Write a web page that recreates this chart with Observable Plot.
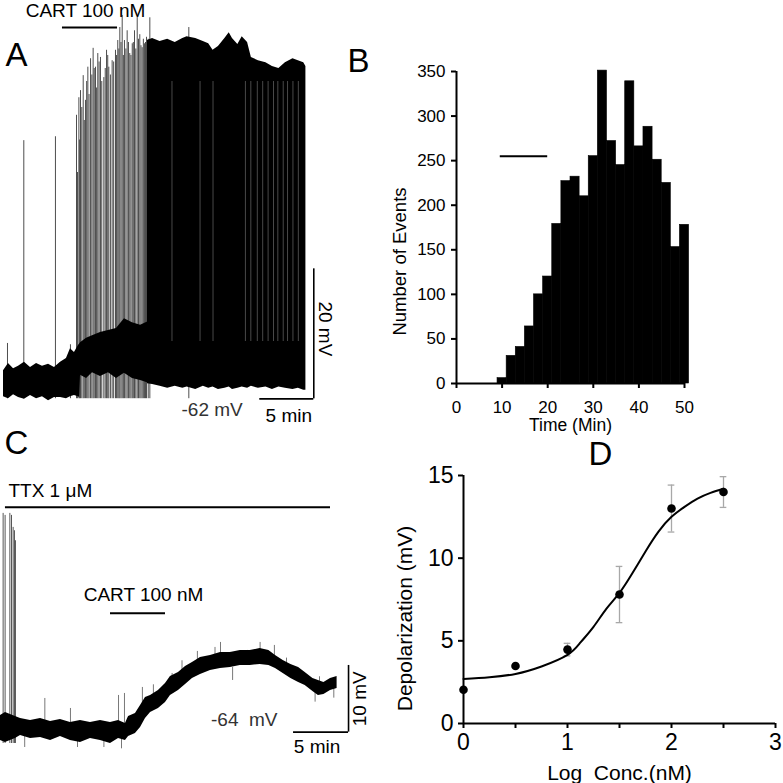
<!DOCTYPE html>
<html><head><meta charset="utf-8">
<script src="https://cdn.jsdelivr.net/npm/d3@7"></script>
<script src="https://cdn.jsdelivr.net/npm/@observablehq/plot@0.6"></script>
<style>
html,body{margin:0;padding:0;background:#fff;}
#fig{position:relative;width:783px;height:783px;overflow:hidden;background:#fff;}
#fig svg{position:absolute;}
#fig [aria-label^="x-axis"] line, #fig [aria-label^="y-axis"] line,
#fig [aria-label^="x-axis"] path, #fig [aria-label^="y-axis"] path{stroke-width:2px;}
</style></head>
<body><div id="fig"></div>
<script>
const FONT = '"Liberation Sans", Arial, Helvetica, sans-serif';

// ---------- Panel A: trace (time in min, membrane potential in mV) ----------
const aBand = [ // [t, upper, lower] noisy baseline band
 [0,-60.5,-64.5],[0.46,-59.4,-64.8],[0.93,-60.2,-64.2],[1.39,-59.8,-64.6],[1.94,-59.2,-64.9],
 [2.5,-60.0,-64.3],[3.06,-59.4,-64.8],[3.61,-59.8,-64.5],[4.17,-59.5,-65.1],[4.72,-60.0,-64.6],
 [5.28,-59.2,-64.6],[5.83,-58.6,-64.8],[6.2,-57.1,-64.5],[6.57,-57.7,-64.3],[6.94,-56.6,-64.5],
 [7.05,-56.4,-64.6],[7.13,-56.2,-61.2],[7.69,-55.5,-61.7],[8.24,-55.1,-60.8],[8.98,-54.6,-61.4],
 [9.72,-54.3,-60.8],[10.46,-54.0,-61.7],[11.2,-52.5,-60.9],[11.94,-53.1,-61.7],[12.69,-53.5,-62.0],
 [13.6,-52.8,-62.5]
];
const aDense = [ // [t, top envelope, bottom envelope] of the dense firing
 [13.33,-9.7,-62.5],[13.8,-9.4,-62.6],[14.5,-9.85,-62.9],[15.2,-9.5,-63.2],[15.9,-10.0,-62.9],
 [16.6,-9.4,-63.2],[17.0,-9.1,-63.0],[17.8,-9.4,-63.4],[18.5,-9.85,-62.9],[19.0,-10.2,-63.2],
 [19.4,-11.2,-63.0],[19.9,-10.6,-63.4],[20.5,-9.4,-63.2],[20.9,-8.5,-63.0],[21.2,-9.4,-63.4],
 [21.7,-10.3,-63.2],[22.1,-9.1,-63.0],[22.6,-10.0,-63.2],[22.95,-12.3,-62.9],[23.6,-12.8,-63.2],
 [24.3,-13.1,-63.0],[24.9,-13.7,-63.4],[25.5,-14.0,-63.0],[26.1,-13.1,-63.2],[26.8,-12.5,-63.4],
 [27.3,-12.8,-63.2],[27.8,-13.1,-63.5],[28.0,-13.7,-63.5]
];
const aSpikes = [ // [t, peak]
 [0.37,-56.3],[1.88,-25.1],[4.81,-24.5],[6.2,-56.5],[6.76,-21.2],[6.85,-30],[6.98,-18.5],[7.05,-25],
 [7.13,-17.4],[7.25,-20],[7.38,-15.1],[7.48,-22],[7.59,-18.9],[7.7,-16],[7.81,-13.8],[7.92,-18],
 [8.06,-12.5],[8.18,-15],[8.3,-10.9],[8.4,-14],[8.52,-13.8],[8.62,-17],[8.73,-11.7],[8.85,-13],
 [8.98,-12.3],[9.1,-16],[9.29,-15.4],[9.42,-14],[9.54,-11.2],[9.65,-12],[9.75,-13.8],[9.9,-15],
 [10.06,-12.8],[10.2,-13],[10.37,-11.2],[10.47,-12],[10.58,-9.7],[10.68,-11],[10.77,-7.7],[10.88,-10],
 [10.99,-5.85],[11.1,-12],[11.2,-9.7],[11.33,-11],[11.45,-8.2],[11.57,-10],[11.69,-11.7],[11.8,-12],
 [11.92,-10.2],[12.02,-10],[12.13,-8.2],[12.25,-11],[12.38,-6.15],[12.5,-9.5],[12.62,-8.8],[12.73,-10.5],
 [12.84,-10.8],[12.95,-9.5],[13.06,-10.2],[13.15,-10],[13.24,-9.2],[13.4,-9.5],[13.55,-6.2],[17.16,-7.7]
];
const aSpikeFloor = -64.8;
const aGaps = [15.6, 18.2, 19.4, 22.4, 22.9, 23.5, 24.0, 24.5, 25.0, 25.4, 25.9, 26.3, 26.8, 27.3];
const aCart = [5.46, 10.56, -7.7];        // start, end, level
const aScaleT = 28.73, aScaleV = -64.82, aScaleMin = 5, aScaleMV = 20;

// ---------- Panel B: histogram ----------
const bBinStart = [9,11,13,15,17,19,21,23,25,27,29,31,33,35,37,39,41,43,45,47,49];
const bCounts   = [6,31,41,64,100,120,179,227,232,210,255,351,272,245,339,266,288,251,225,153,178];
const bBinWidth = 2;
const bTicksX = [0,10,20,30,40,50];
const bTicksY = [0,50,100,150,200,250,300,350];
const bCart = [9.6, 20, 255];

// ---------- Panel C: trace in TTX ----------
const cBand = [
 [0,-62.2,-65.95],[0.45,-61.75,-66.25],[1.36,-62.35,-65.65],[1.82,-62.65,-65.2],[2.73,-62.95,-65.65],
 [3.64,-62.65,-65.5],[4.55,-63.1,-65.95],[5.45,-62.8,-65.35],[6.36,-63.25,-65.95],[7.27,-62.95,-66.25],
 [8.18,-63.25,-65.65],[9.09,-62.95,-65.95],[10.0,-63.25,-66.4],[10.73,-62.95,-65.65],[11.36,-63.4,-65.95],
 [11.64,-62.35,-65.35],[12.27,-61.9,-64.9],[12.73,-60.7,-64.0],[13.18,-59.5,-62.65],[13.64,-59.2,-61.75],
 [14.36,-58.45,-61.15],[15.0,-57.4,-60.25],[15.45,-56.35,-59.2],[16.18,-55.75,-58.45],[16.82,-54.85,-57.55],
 [17.45,-54.25,-56.65],[18.18,-53.5,-56.05],[19.09,-53.2,-55.45],[20.0,-52.76,-55.15],[20.9,-52.76,-55.0],
 [21.8,-52.46,-54.7],[22.7,-52.46,-54.7],[23.6,-52.16,-54.55],[24.4,-52.46,-54.7],[25.0,-53.2,-55.15],
 [25.7,-53.95,-55.9],[26.4,-54.55,-56.65],[27.1,-55.0,-57.25],[27.7,-55.75,-57.7],[28.4,-56.65,-58.6],
 [28.9,-56.95,-59.2],[29.4,-57.25,-59.05],[30.0,-56.65,-58.45],[30.6,-56.35,-58.15]
];
const cSpikes = [[0.24,-31.9],[0.42,-32.2],[0.85,-31.9],[1.0,-32.2],[1.15,-34.0],[1.27,-34.5],[1.36,-36.0]];
const cSpikeFloor = -66.4;
const cNoise = [ // [t, from, to]
 [4.03,-64.3,-59.65],[6.36,-64.5,-61.15],[10.73,-64.5,-59.2],[11.27,-64.3,-58.9],[12.9,-61,-58.0],
 [15.6,-58,-55.9],[20.0,-54.5,-51.25],[20.9,-54.5,-52.75],[21.1,-55,-56.95],[22.45,-54,-52.45],[23.6,-54,-51.25],
 [13.9,-60.8,-57.6],[16.5,-56.5,-54.0],[17.9,-55,-52.6],[19.5,-54.3,-52.0],[24.9,-54,-51.7],[26.0,-55.5,-53.6],
 [29.0,-58.5,-56.4],[28.6,-58,-60.2],[30.3,-57.5,-59.6],[2.2,-64,-67.0],[7.0,-64,-67.0],[9.4,-64,-67.0],[11.0,-64.5,-67.2]
];
const cTTX = [0.45, 30.0, -30.97];
const cCart = [10, 15, -46.86];
const cScaleT = 31.64, cScaleV = -64.7, cScaleMin = 5, cScaleMV = 10;

// ---------- Panel D: dose-response ----------
const dLogConc = [0, 0.5, 1, 1.5, 2, 2.5];
const dMean    = [2.04, 3.48, 4.47, 7.8, 13.0, 14.0];
const dErr     = [0, 0, 0.38, 1.7, 1.42, 0.93];
const dFitX = [0,0.25,0.5,0.75,1.0,1.125,1.25,1.375,1.5,1.625,1.75,1.875,2.0,2.125,2.25,2.375,2.5];
const dFitY = [2.69,2.8,3.0,3.45,4.15,4.9,5.85,6.95,7.9,9.1,10.4,11.6,12.5,13.1,13.6,13.95,14.2];
const dTicksX = [0,0.5,1,1.5,2,2.5,3];
const dTicksY = [0,5,10,15];

const fig = document.getElementById("fig");
function place(svg, left, top){ svg.style.left = left+"px"; svg.style.top = top+"px"; fig.appendChild(svg); }
const baseStyle = (fs) => ({fontFamily: FONT, fontSize: fs, color: "black", background: "transparent", overflow: "visible"});

// Panel A
const band = aBand.map(([t,hi,lo]) => ({t,hi,lo}));
const dense = aDense.map(([t,hi,lo]) => ({t,hi,lo}));
const spikes = aSpikes.map(([t,p]) => ({t,p}));
const A = Plot.plot({
  width: 360, height: 430, marginLeft: 3, marginRight: 0, marginTop: 0, marginBottom: 0,
  x: {domain: [0, 357/10.8], axis: null},
  y: {domain: [-69.69, -3.54], axis: null},
  style: baseStyle("19px"),
  marks: [
    Plot.ruleX(spikes, {x: "t", y1: aSpikeFloor, y2: "p", stroke: "#3a3a3a", strokeWidth: 0.9}),
    Plot.areaY(band, {x: "t", y1: "lo", y2: "hi", fill: "black", curve: "linear"}),
    Plot.areaY(dense, {x: "t", y1: "lo", y2: "hi", fill: "black", curve: "linear"}),
    Plot.ruleX(aGaps, {x: d => d, y1: -56, y2: -16, stroke: "#7a7a7a", strokeWidth: 0.6}),
    Plot.ruleY([aCart], {x1: d => d[0], x2: d => d[1], y: d => d[2], strokeWidth: 2}),
    Plot.text([aCart], {x: d => (d[0]+d[1])/2, y: d => d[2], text: () => "CART 100 nM", textAnchor: "middle", dx: -4.5, dy: -17}),
    Plot.ruleX([aScaleT], {x: d => d, y1: aScaleV, y2: aScaleV + aScaleMV, strokeWidth: 1.6}),
    Plot.ruleY([aScaleV], {y: d => d, x1: aScaleT - aScaleMin, x2: aScaleT, strokeWidth: 1.6}),
    Plot.text([0], {x: aScaleT, y: aScaleV + aScaleMV/2, text: () => aScaleMV + " mV", rotate: 90, textAnchor: "middle", dx: 11, dy: -5}),
    Plot.text([0], {x: aScaleT - aScaleMin/2, y: aScaleV, text: () => aScaleMin + " min", textAnchor: "middle", dx: 2, dy: 17}),
    Plot.text([0], {x: aScaleT - aScaleMin, y: aScaleV, text: () => "-62 mV", textAnchor: "end", dx: -17, dy: 11, fill: "#333"}),
    Plot.text(["A"], {frameAnchor: "top-left", textAnchor: "start", lineAnchor: "top", dx: 2, dy: 42, fontSize: 33})
  ]
});
place(A, 0, 0);

// Panel B
const B = Plot.plot({
  width: 360, height: 405, marginLeft: 116, marginRight: 16, marginTop: 31, marginBottom: 62,
  x: {domain: [0, 50], ticks: bTicksX, tickSize: 5, tickPadding: 12, label: null},
  y: {domain: [0, 350], ticks: bTicksY, tickSize: 5, tickPadding: 6, label: null},
  style: baseStyle("17px"),
  marks: [
    Plot.rectY(bCounts, {x1: (d,i) => bBinStart[i], x2: (d,i) => bBinStart[i] + bBinWidth, y: d => d, fill: "black", stroke: "black", strokeWidth: 0.6}),
    Plot.ruleY([0], {strokeWidth: 2}),
    Plot.ruleX([0], {strokeWidth: 2}),
    Plot.ruleY([bCart], {x1: d => d[0], x2: d => d[1], y: d => d[2], strokeWidth: 2}),
    Plot.text(["Time (Min)"], {frameAnchor: "bottom", textAnchor: "middle", lineAnchor: "middle", dy: 42, fontSize: 17.5}),
    Plot.text(["Number of Events"], {frameAnchor: "left", textAnchor: "middle", lineAnchor: "middle", rotate: -90, dx: -56, dy: 34, fontSize: 18.5}),
    Plot.text(["B"], {frameAnchor: "top-left", textAnchor: "start", lineAnchor: "top", dx: -109, dy: -23, fontSize: 33})
  ]
});
place(B, 340, 40);

// Panel C
const cb = cBand.map(([t,hi,lo]) => ({t,hi,lo}));
const C = Plot.plot({
  width: 372, height: 363, marginLeft: 0, marginRight: 0, marginTop: 0, marginBottom: 0,
  x: {domain: [0, 372/11], axis: null},
  y: {domain: [-72.4, -17.97], axis: null},
  style: baseStyle("19px"),
  marks: [
    Plot.ruleX(cSpikes, {x: d => d[0], y1: cSpikeFloor, y2: d => d[1], stroke: "#444", strokeWidth: 0.9}),
    Plot.ruleX(cNoise, {x: d => d[0], y1: d => d[1], y2: d => d[2], stroke: "#555", strokeWidth: 0.8}),
    Plot.areaY(cb, {x: "t", y1: "lo", y2: "hi", fill: "black"}),
    Plot.ruleY([cTTX], {x1: d => d[0], x2: d => d[1], y: d => d[2], strokeWidth: 2}),
    Plot.text([cTTX], {x: d => d[0], y: d => d[2], text: () => "TTX 1 μM", textAnchor: "start", dx: 3, dy: -16}),
    Plot.ruleY([cCart], {x1: d => d[0], x2: d => d[1], y: d => d[2], strokeWidth: 2}),
    Plot.text([cCart], {x: d => (d[0]+d[1])/2, y: d => d[2], text: () => "CART 100 nM", textAnchor: "middle", dx: 5.5, dy: -18}),
    Plot.ruleX([cScaleT], {x: d => d, y1: cScaleV, y2: cScaleV + cScaleMV, strokeWidth: 1.6}),
    Plot.ruleY([cScaleV], {y: d => d, x1: cScaleT - cScaleMin, x2: cScaleT, strokeWidth: 1.6}),
    Plot.text([0], {x: cScaleT, y: cScaleV + cScaleMV/2, text: () => cScaleMV + " mV", rotate: -90, textAnchor: "middle", dx: 11}),
    Plot.text([0], {x: cScaleT - cScaleMin/2, y: cScaleV, text: () => cScaleMin + " min", textAnchor: "middle", dx: -4, dy: 15}),
    Plot.text([0], {x: cScaleT - cScaleMin, y: cScaleV, text: () => "-64\u00a0 mV", textAnchor: "end", dx: -16, dy: -12, fill: "#333"}),
    Plot.text(["C"], {frameAnchor: "top-left", textAnchor: "start", lineAnchor: "top", dx: 4, dy: 10, fontSize: 33})
  ]
});
place(C, 0, 420);

// Panel D
const pts = dLogConc.map((x,i) => ({x, m: dMean[i], e: dErr[i]}));
const ebars = pts.filter(d => d.e > 0);
const fit = dFitX.map((x,i) => ({x, y: dFitY[i]}));
const cap = 0.032;
const D = Plot.plot({
  width: 398, height: 358, marginLeft: 78, marginRight: 8, marginTop: 50, marginBottom: 60,
  x: {domain: [0, 3], ticks: dTicksX, tickFormat: d => Number.isInteger(d) ? String(d) : "", tickSize: 5, tickPadding: 5, label: null},
  y: {domain: [0, 15], ticks: dTicksY, tickSize: 5, tickPadding: 5, label: null},
  style: baseStyle("23px"),
  marks: [
    Plot.ruleX(ebars, {x: "x", y1: d => d.m - d.e, y2: d => d.m + d.e, stroke: "#a8a8a8", strokeWidth: 1.3}),
    Plot.ruleY(ebars, {y: d => d.m + d.e, x1: d => d.x - cap, x2: d => d.x + cap, stroke: "#a8a8a8", strokeWidth: 1.3}),
    Plot.ruleY(ebars, {y: d => d.m - d.e, x1: d => d.x - cap, x2: d => d.x + cap, stroke: "#a8a8a8", strokeWidth: 1.3}),
    Plot.line(fit, {x: "x", y: "y", curve: "natural", strokeWidth: 2}),
    Plot.dot(pts, {x: "x", y: "m", r: 4.3, fill: "black"}),
    Plot.ruleX([0], {strokeWidth: 2}),
    Plot.ruleY([0], {strokeWidth: 2}),
    Plot.text(["Log\u00a0 Conc.(nM)"], {frameAnchor: "bottom", textAnchor: "middle", lineAnchor: "middle", dy: 50, fontSize: 21}),
    Plot.text(["Depolarization (mV)"], {frameAnchor: "left", textAnchor: "middle", lineAnchor: "middle", rotate: -90, dx: -58, dy: 19, fontSize: 21}),
    Plot.text(["D"], {frameAnchor: "top-left", textAnchor: "start", lineAnchor: "top", dx: 125, dy: -34, fontSize: 33})
  ]
});
place(D, 385, 425);
</script></body></html>
